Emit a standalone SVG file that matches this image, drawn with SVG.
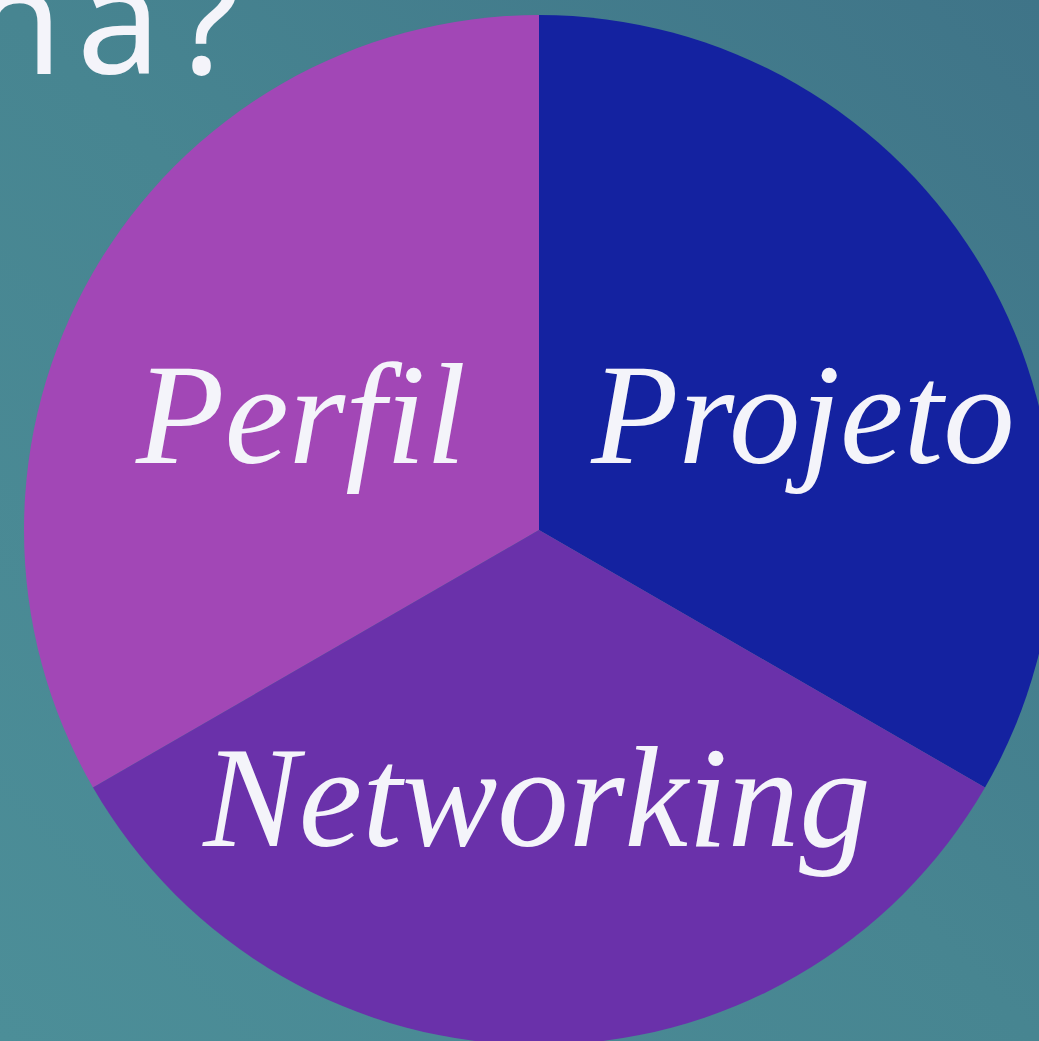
<svg xmlns="http://www.w3.org/2000/svg" width="1039" height="1041" viewBox="0 0 1039 1041">
<defs>
<linearGradient id="bg" x1="1" y1="0" x2="0" y2="1">
<stop offset="0" stop-color="#3F7488"/>
<stop offset="0.5" stop-color="#478591"/>
<stop offset="1" stop-color="#4C8E98"/>
</linearGradient>
<style>
.lbl{font-family:"Liberation Serif","Times New Roman",serif;font-style:italic;font-size:143px;fill:#F4F4FA;text-anchor:middle}
.title{font-family:"Noto Sans","DejaVu Sans",sans-serif;font-size:150px;fill:#F4F4FA;letter-spacing:14px}
</style>
</defs>
<rect width="1039" height="1041" fill="url(#bg)"/>
<text class="title" x="-30" y="74">na?</text>
<g id="perfil">
<path d="M539,530 L539,15 A515,515 0 0 0 93,787.5 Z" fill="#A247B6"/>
<text class="lbl" x="301" y="463" style="font-size:145px">Perfil</text>
</g>
<g id="projeto">
<path d="M539,530 L539,15 A515,515 0 0 1 985,787.5 Z" fill="#1422A0"/>
<text class="lbl" x="803" y="463">Projeto</text>
</g>
<g id="networking">
<path d="M539,530 L93,787.5 A515,515 0 0 0 985,787.5 Z" fill="#6A31AA"/>
<text class="lbl" x="537" y="846">Networking</text>
</g>
<g id="connectors"/>
</svg>
